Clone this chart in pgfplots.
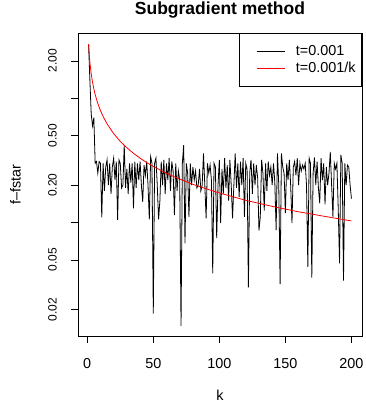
\documentclass[border=0pt]{standalone}
\usepackage{pgfplots}
\pgfplotsset{compat=1.18}
\usepackage{pgfplotstable}
\usepackage{fontspec}
\setmainfont{Liberation Sans}
\pgfplotstableread{
k f
1 2.73
2 1.4
3 0.75
4 0.6
5 0.7
6 0.3
7 0.31
8 0.25
9 0.31
10 0.3
11 0.11
12 0.3
13 0.18
14 0.28
15 0.32
16 0.2
17 0.3
18 0.17
19 0.28
20 0.33
21 0.22
22 0.31
23 0.105
24 0.32
25 0.3
26 0.19
27 0.2
28 0.42
29 0.19
30 0.27
31 0.17
32 0.3
33 0.21
34 0.3
35 0.13
36 0.31
37 0.19
38 0.3
39 0.22
40 0.31
41 0.2
42 0.147
43 0.29
44 0.24
45 0.31
46 0.2
47 0.106
48 0.34
49 0.3
50 0.0185
51 0.3
52 0.33
53 0.2
54 0.106
55 0.15
56 0.31
57 0.2
58 0.32
59 0.17
60 0.3
61 0.22
62 0.33
63 0.18
64 0.31
65 0.26
66 0.115
67 0.3
68 0.18
69 0.26
70 0.22
71 0.0147
72 0.3
73 0.42
74 0.068
75 0.3
76 0.25
77 0.111
78 0.3
79 0.2
80 0.28
81 0.22
82 0.26
83 0.19
84 0.2
85 0.27
86 0.18
87 0.2
88 0.36
89 0.2
90 0.108
91 0.3
92 0.25
93 0.29
94 0.22
95 0.039
96 0.3
97 0.28
98 0.075
99 0.2
100 0.32
101 0.099
102 0.27
103 0.17
104 0.33
105 0.19
106 0.29
107 0.15
108 0.32
109 0.2
110 0.108
111 0.2
112 0.36
113 0.19
114 0.3
115 0.16
116 0.31
117 0.2
118 0.33
119 0.111
120 0.3
121 0.27
122 0.030
123 0.25
124 0.32
125 0.17
126 0.3
127 0.2
128 0.29
129 0.23
130 0.086
131 0.111
132 0.32
133 0.25
134 0.125
135 0.3
136 0.18
137 0.31
138 0.24
139 0.28
140 0.2
141 0.3
142 0.21
143 0.087
144 0.36
145 0.2
146 0.032
147 0.36
148 0.28
149 0.25
150 0.119
151 0.3
152 0.22
153 0.32
154 0.2
155 0.099
156 0.28
157 0.31
158 0.24
159 0.33
160 0.2
161 0.3
162 0.26
163 0.29
164 0.27
165 0.3
166 0.2
167 0.044
168 0.33
169 0.3
170 0.036
171 0.25
172 0.334
173 0.2
174 0.31
175 0.19
176 0.143
177 0.33
178 0.22
179 0.3
180 0.14
181 0.28
182 0.2
183 0.25
184 0.37
185 0.2
186 0.111
187 0.3
188 0.27
189 0.3
190 0.13
191 0.047
192 0.35
193 0.3
194 0.034
195 0.3
196 0.2
197 0.29
198 0.28
199 0.2
200 0.156
}\subgrad
\pgfplotstableread{
k f
1 2.73
2 1.945
3 1.576
4 1.350
5 1.193
6 1.076
7 0.985
8 0.912
9 0.850
10 0.799
12 0.715
15 0.623
20 0.520
25 0.450
30 0.400
35 0.361
40 0.330
45 0.304
50 0.283
60 0.249
70 0.224
80 0.203
90 0.187
100 0.173
120 0.151
140 0.135
160 0.122
180 0.112
200 0.103
}\dimin
\begin{document}
\begin{tikzpicture}
\begin{axis}[
  scale only axis,
  width=284pt, height=303pt,
  ymode=log,
  xmin=-7, xmax=208,
  ymin=0.0122, ymax=3.36,
  axis line style={line width=0.8pt},
  tick style={line width=0.8pt, black},
  tick align=outside,
  major tick length=7pt,
  xtick pos=bottom, ytick pos=left,
  xtick={0,50,100,150,200},
  ytick={0.02,0.05,0.1,0.2,0.5,1,2},
  yticklabels={0.02,0.05,{},0.20,0.50,{},2.00},
  minor tick num=0,
  log basis y=10,
  /pgf/number format/assume math mode=true,
  xticklabel style={font=\fontsize{14.4}{17}\selectfont, anchor=north, inner sep=0pt},
  xticklabel shift=15pt,
  yticklabel style={font=\fontsize{12}{14}\selectfont, rotate=90, anchor=south, inner sep=0pt},
  yticklabel shift=14pt,
  title={\textbf{Subgradient method}},
  title style={font=\fontsize{17.5}{20}\selectfont, at={(axis description cs:0.5,1)}, anchor=base, yshift=12.5pt, inner sep=0pt},
  xlabel={k},
  xlabel style={font=\fontsize{14.4}{17}\selectfont, at={(axis description cs:0.5,0)}, anchor=base, yshift=-64pt, inner sep=0pt},
  ylabel={f–fstar},
  ylabel style={font=\fontsize{14.4}{17}\selectfont, at={([xshift=-57pt]axis description cs:0,0.5)}, rotate=0, anchor=south, inner sep=0pt},
  legend style={at={(1,1)}, anchor=north east, draw=black, line width=0.8pt,
    font=\fontsize{14.4}{17}\selectfont, inner xsep=6pt, inner ysep=11.5pt,
    row sep=4.5pt, nodes={inner sep=0pt, text height=10.3pt, text depth=2.5pt},
    /tikz/every odd column/.append style={column sep=11pt}},
  legend cell align=left,
  legend image code/.code={\draw[#1, line width=0.9pt] (0pt,0pt) (11pt,0pt) -- (39pt,0pt);},
]
\addplot[black, line width=0.8pt] table[x=k, y=f] {\subgrad};
\addlegendentry{t=0.001}
\addplot[red, line width=0.8pt] table[x=k, y=f] {\dimin};
\addlegendentry{t=0.001/k}
\end{axis}
\pgfresetboundingbox
\path (-78pt,-71pt) rectangle (288pt,336pt);
\end{tikzpicture}
\end{document}
